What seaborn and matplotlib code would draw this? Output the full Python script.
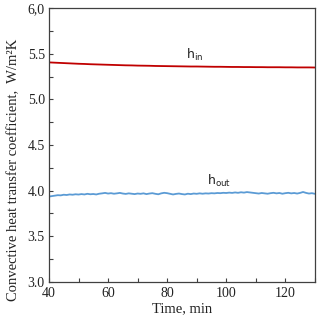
#!/usr/bin/env python3
"""
Convective heat transfer coefficients h_in and h_out over time.
Saves `out.png` (320x324 px).
"""

import numpy as np
import pandas as pd
import seaborn as sns
import matplotlib.pyplot as plt
from matplotlib.ticker import MultipleLocator, FixedLocator, FixedFormatter

# h_in, read every 2 min
time_in = list(range(40, 131, 2))
h_in = [5.405, 5.402, 5.399, 5.396, 5.393, 5.390, 5.388, 5.385, 5.383, 5.381,
        5.379, 5.377, 5.375, 5.373, 5.372, 5.370, 5.369, 5.368, 5.366, 5.365,
        5.364, 5.363, 5.362, 5.361, 5.360, 5.360, 5.359, 5.358, 5.357, 5.357,
        5.356, 5.355, 5.355, 5.354, 5.354, 5.353, 5.353, 5.352, 5.352, 5.352,
        5.351, 5.351, 5.350, 5.350, 5.350, 5.349]

# h_out, read every minute
time_out = list(range(40, 131))
h_out = [3.935, 3.940, 3.945, 3.950, 3.948, 3.955, 3.952, 3.958, 3.955, 3.960,
         3.957, 3.962, 3.958, 3.965, 3.960, 3.963, 3.958, 3.966, 3.970, 3.975,
         3.968, 3.972, 3.966, 3.970, 3.975, 3.968, 3.964, 3.970, 3.966, 3.962,
         3.968, 3.965, 3.970, 3.962, 3.968, 3.972, 3.965, 3.960, 3.970, 3.976,
         3.972, 3.965, 3.958, 3.964, 3.968, 3.962, 3.958, 3.966, 3.962, 3.968,
         3.965, 3.970, 3.966, 3.970, 3.968, 3.972, 3.970, 3.974, 3.972, 3.976,
         3.974, 3.978, 3.975, 3.980, 3.976, 3.982, 3.978, 3.984, 3.980, 3.976,
         3.972, 3.968, 3.974, 3.970, 3.966, 3.972, 3.976, 3.970, 3.974, 3.966,
         3.972, 3.976, 3.970, 3.974, 3.968, 3.975, 3.985, 3.975, 3.968, 3.972,
         3.965]

y_tick_values = [3.0, 3.5, 4.0, 4.5, 5.0, 5.5, 6.0]
y_tick_labels = ["3.0", "3.5", "4.0", "4.5", "5.0", "5.5", "6,0"]

df_in = pd.DataFrame({"time": time_in, "h": h_in})
df_out = pd.DataFrame({"time": time_out, "h": h_out})

sns.set_theme(style="white")
plt.rcParams["font.family"] = ["Liberation Serif", "DejaVu Serif"]

fig = plt.figure(figsize=(3.2, 3.24), dpi=100)
ax = fig.add_axes([0.153, 0.130, 0.831, 0.845])

sns.lineplot(data=df_in, x="time", y="h", ax=ax, color="#C00000", linewidth=1.3)
sns.lineplot(data=df_out, x="time", y="h", ax=ax, color="#5B9BD5", linewidth=1.3)

ax.set_xlim(40, 130)
ax.set_ylim(3.0, 6.0)

ax.xaxis.set_major_locator(FixedLocator([40, 60, 80, 100, 120]))
ax.xaxis.set_minor_locator(MultipleLocator(10))
ax.yaxis.set_major_locator(FixedLocator(y_tick_values))
ax.yaxis.set_major_formatter(FixedFormatter(y_tick_labels))
ax.yaxis.set_minor_locator(MultipleLocator(0.25))

ax.tick_params(which="both", direction="in", length=3, width=0.8,
               color="#404040", labelsize=10, labelcolor="#222222")
ax.tick_params(which="both", top=False, right=False)
ax.tick_params(axis="x", which="both", bottom=True, pad=4)
ax.tick_params(axis="y", which="both", left=True, pad=3)

for sp in ax.spines.values():
    sp.set_color("#404040")
    sp.set_linewidth(0.9)

ax.set_xlabel("Time, min", fontsize=10.5, color="#222222", labelpad=1)
ax.set_ylabel("Convective heat transfer coefficient,  W/m\u00b2K", fontsize=10.5,
              color="#222222")
# label sits a little below the axes centre in the original
ax.yaxis.set_label_coords(-0.11, 0.41)

ax.text(86.4, 5.40, r"h$_\mathregular{in}$", fontsize=9, family="DejaVu Sans",
        color="#222222", ha="left", va="bottom")
ax.text(93.4, 4.02, r"h$_\mathregular{out}$", fontsize=9, family="DejaVu Sans",
        color="#222222", ha="left", va="bottom")

fig.savefig("out.png", dpi=100)
plt.close(fig)
